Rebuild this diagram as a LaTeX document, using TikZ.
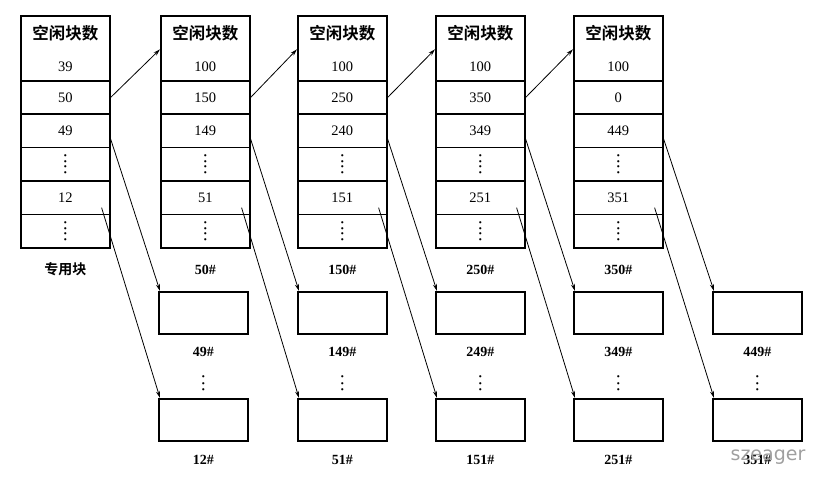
\documentclass[tikz,border=0pt]{standalone}
\usepackage{fontspec}
\setmainfont{Liberation Serif}
\newfontfamily\cjk{Noto Sans CJK SC}[BoldFont={Noto Sans CJK SC Bold}]
\newfontfamily\wmfont{DejaVu Sans}
\newfontfamily\symfont{DejaVu Sans}
\usetikzlibrary{arrows.meta}
\newcommand\onedot{\hbox{\symfont\fontsize{2.9}{3}\selectfont ●}}
\newcommand\cellvdots{\vbox{\baselineskip5.6pt\lineskiplimit-10pt\lineskip0pt\onedot\onedot\onedot\onedot}}
\newcommand\gapvdots{\vbox{\baselineskip6.5pt\lineskiplimit-10pt\lineskip0pt\onedot\onedot\onedot}}
\begin{document}
\begin{tikzpicture}[x=1pt,y=-1pt,
  cell/.style={draw,line width=1.6pt,minimum width=89pt,minimum height=33.4pt,anchor=north west,inner sep=0pt,font=\fontsize{14.5}{16}\selectfont},
  head/.style={cell,minimum height=65pt,align=center,font=\fontsize{14.5}{32}\selectfont},
  sbox/.style={draw,line width=1.6pt,minimum width=89pt,minimum height=42pt,anchor=north west,inner sep=0pt},
  lab/.style={font=\fontsize{14}{16}\selectfont\bfseries,inner sep=1pt},
  vd/.style={inner sep=0pt},
  arr/.style={line width=0.8pt,-{Stealth[length=7pt,width=4pt]}}]
\useasboundingbox (0,0) rectangle (815,477);
% main blocks
\foreach \i/\x/\v/\a/\b/\d/\lab in {
  1/20/39/50/49/12/{{\cjk\bfseries 专用块}},
  2/160/100/150/149/51/{50\#},
  3/297/100/250/240/151/{150\#},
  4/435/100/350/349/251/{250\#},
  5/573/100/0/449/351/{350\#}}{
  \node[head] (h\i) at (\x,15) {{\cjk\bfseries\fontsize{16.5}{32}\selectfont 空闲块数}\\\v};
  \node[cell] (ra\i) at (\x,80) {\a};
  \node[cell] (rb\i) at (\x,113.4) {\b};
  \node[cell] (rc\i) at (\x,146.8) {\cellvdots};
  \node[cell] (rd\i) at (\x,180.2) {\d};
  \node[cell] (re\i) at (\x,213.6) {\cellvdots};
  \node[lab] (l\i) at ([yshift=-21pt]re\i.south) {\lab};
}
% small boxes
\foreach \i/\x/\p/\q in {1/158/49/12, 2/297/149/51, 3/435/249/151, 4/573/349/251, 5/712/449/351}{
  \node[sbox] (sa\i) at (\x,291) {};
  \node[lab] (la\i) at ([yshift=-17pt]sa\i.south) {\p\#};
  \node[vd] (dv\i) at ([yshift=-49pt]sa\i.south) {\gapvdots};
  \node[sbox] (sb\i) at (\x,398) {};
  \node[lab] (lb\i) at ([yshift=-18pt]sb\i.south) {\q\#};
}
% arrows between main blocks
\foreach \i/\j in {1/2,2/3,3/4,4/5}{
  \draw[arr] (ra\i.east) -- ([yshift=-1pt]h\j.west);
}
% arrows to small boxes
\foreach \i in {1,...,5}{
  \draw[arr] ([yshift=-8pt]rb\i.east) -- ([xshift=2pt]sa\i.north west);
  \draw[arr] ([xshift=-9pt,yshift=-10pt]rd\i.east) -- ([xshift=2pt]sb\i.north west);
}
% watermark
\node[font=\wmfont\fontsize{19}{20}\selectfont,text=gray!75,inner sep=0pt] (wm) at (768,457) {szeager};
\end{tikzpicture}
\end{document}
